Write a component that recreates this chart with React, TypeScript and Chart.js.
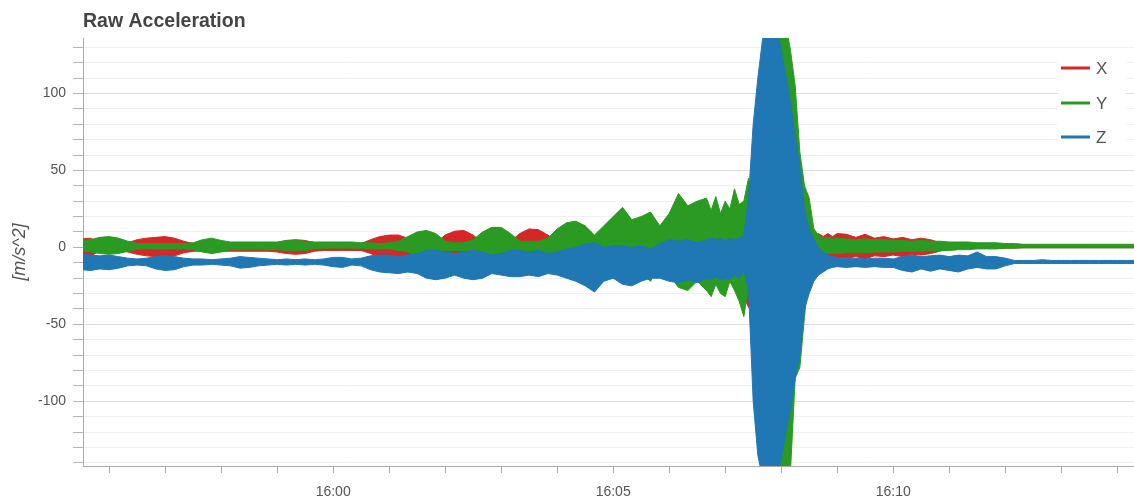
import React, { useEffect, useRef } from 'react';
import { Chart, registerables } from 'chart.js';

Chart.register(...registerables);

// seconds after 15:55:00
const times = [
  30, 40, 50, 60, 70, 80, 90, 100, 110, 120,
  130, 140, 150, 160, 170, 180, 190, 200, 210, 220,
  230, 240, 250, 260, 270, 280, 290, 300, 310, 320,
  330, 340, 350, 360, 370, 380, 390, 400, 410, 420,
  430, 440, 450, 460, 470, 480, 490, 500, 510, 520,
  530, 540, 550, 560, 570, 580, 590, 600, 610, 620,
  630, 640, 650, 660, 670, 680, 690, 700,
  705, 710, 715, 720, 725, 730, 735, 740, 745, 750,
  755, 760, 765, 770, 775, 780, 785, 790, 795, 800,
  805, 810, 815, 820, 825, 830, 835, 840,
  850, 860, 870, 880, 890, 900, 910, 920, 930, 940,
  950, 960, 970, 980, 990, 1000, 1010, 1020, 1030, 1040,
  1050, 1060, 1070, 1080, 1090, 1100, 1110, 1120, 1130, 1140,
  1150, 1160,
];

const xUpper = [
  5.5, 6, 3, 2.5, 3, 3, 5, 6, 6.5, 7,
  6, 4, 2.5, 2.5, 2.5, 2.5, 2.5, 3, 2.5, 2.5,
  2.5, 3, 4.5, 5, 4.5, 3, 2, 2, 2, 2,
  2.5, 5, 7, 8, 8, 6, 3, 2.5, 3, 8,
  10.5, 11, 8, 3, 3, 3, 4, 9, 12, 11.5,
  8, 4, 4, 4, 5, 5, 6, 7, 8, 8,
  9, 9, 10, 10, 11, 12, 12, 13,
  13, 14, 14, 15, 15, 16, 18, 20, 22, 30,
  40, 45, 50, 50, 50, 45, 40, 35, 30, 25,
  18, 12, 8, 9, 7, 9, 7, 9,
  8.5, 6.5, 8.5, 6, 7, 5.5, 6.5, 5, 6, 5,
  3, 2, 2, 1.8, 2, 1.8, 2, 1.8, 1.8, 1.5,
  1.5, 1.5, 1.5, 1.5, 1.5, 1.5, 1.5, 1.5, 1.5, 1.5,
  1.5, 1.5,
];

const xLower = [
  -5, -6, -2, -2, -2, -3, -4.5, -5.5, -6, -6.5,
  -5.5, -3.5, -2.5, -2.5, -2.5, -2.5, -2.5, -2.5, -2.5, -2.5,
  -2.5, -3, -4, -4.5, -4, -2.5, -2, -2, -2, -2,
  -2, -4, -6.5, -7, -7.5, -5, -3, -2.5, -3, -6,
  -8, -8.5, -6, -3, -3, -3, -3, -6, -7, -7,
  -5, -3, -4, -4, -5, -5, -6, -7, -8, -8,
  -9, -9, -10, -10, -11, -12, -12, -13,
  -14, -14, -15, -16, -18, -20, -25, -32, -39, -35,
  -40, -45, -50, -50, -50, -45, -40, -35, -30, -25,
  -18, -10, -5, -7, -6.5, -7.5, -6, -7.5,
  -7, -6, -7.5, -5.5, -6, -5, -6, -4.5, -5, -4,
  -2.5, -1, -0.5, -0.5, -0.5, -0.5, -0.5, -0.5, -0.5, -0.2,
  -0.2, -0.2, -0.2, -0.2, -0.2, -0.2, -0.2, -0.2, -0.2, -0.2,
  -0.2, -0.2,
];

const yUpper = [
  4.5, 5, 6.5, 7, 6, 4, 2.5, 2.5, 2.5, 2.5,
  2.5, 2.5, 3, 5, 6, 4.5, 3.5, 3.5, 3.5, 3.5,
  3.5, 3.5, 4.5, 4.5, 4, 3.5, 3.5, 3.5, 3.5, 3.5,
  3, 3, 2.5, 3, 4, 7, 10, 11, 9, 4,
  3, 3, 5, 10, 13, 13, 9, 4, 4, 4,
  6, 12, 16, 17, 14, 8, 14, 20, 26, 18,
  20, 23, 14, 22, 35, 27, 30, 32,
  24, 33, 22, 30, 25, 38, 28, 30, 45, 35,
  60, 100, 140, 150, 150, 150, 145, 128, 105, 62,
  40, 32, 12, 8, 6, 6.5, 6, 6,
  5.5, 5, 5.5, 5, 5, 4.5, 4.5, 4, 4.5, 4,
  4, 3.5, 3.5, 3.5, 3, 3, 3, 2.5, 2.5, 2,
  2, 2, 2, 2, 2, 2, 2, 2, 2, 2,
  2, 2,
];

const yLower = [
  -2, -3, -4, -4.5, -4, -2.5, -1, -1, -1, -1,
  -1, -1, -1.5, -3, -4, -3, -1.5, -1.5, -1.5, -1.5,
  -1.5, -1.5, -2, -2, -2, -1, -0.5, -0.5, -0.5, -0.5,
  -0.5, -1, -1, -1, -2, -3, -5.5, -6.5, -5, -2,
  -2, -2, -3, -6, -8.5, -8, -6, -3, -3, -3,
  -4, -7, -8.5, -8.5, -7, -5, -10, -15, -21, -14,
  -17, -22, -10, -18, -26, -28, -22, -28,
  -32, -24, -30, -32, -22, -28, -35, -45, -25, -50,
  -80, -120, -145, -150, -150, -150, -150, -145, -85, -78,
  -45, -15, -5, -4, -4, -4, -4, -4,
  -3.5, -3.5, -3.5, -3, -3, -3, -2.5, -2.5, -2.5, -2,
  -2, -2, -1.5, -1.5, -1, -1, -1, -0.5, -0.5, -0.3,
  -0.3, -0.3, -0.3, -0.3, -0.3, -0.3, -0.3, -0.3, -0.3, -0.3,
  -0.3, -0.3,
];

const zUpper = [
  -4.5, -5, -5.5, -5, -6, -7, -7.5, -7, -6, -5.5,
  -6, -7, -7.5, -7.5, -8, -7.5, -7, -6, -6.5, -7,
  -7.5, -8, -7.5, -8, -7.5, -8, -7.5, -6.5, -6.5, -7.5,
  -7, -5.5, -5, -5, -6, -5, -4, -2, -2, -3,
  -4, -3, -2, -3, -5, -4, -2, -2, -3, -2,
  -4, -3, -1, 0, 2, 3, 0, 1, 1, 0,
  1, -1, 2, 5, 4, 5, 3, 5,
  6, 5, 6, 4, 6, 5, 6, 8, 32, 80,
  110, 135, 150, 150, 145, 128, 112, 95, 72, 52,
  25, 12, 5, 0, -3, -5, -6, -6.5,
  -7, -7, -7.5, -7, -7, -7.5, -6, -5, -6, -5.5,
  -5, -6, -5, -5.5, -3, -6, -6, -7, -8.5, -8.5,
  -8.5, -8, -8.5, -8.5, -8.5, -8.5, -8.5, -8.5, -8.5, -8.5,
  -8.5, -8.5,
];

const zLower = [
  -14.5, -15, -14, -14.5, -13.5, -12, -11.5, -12, -14, -15,
  -14.5, -12.5, -11.5, -11.5, -11, -11.5, -12, -13.5, -13, -12,
  -11.5, -11, -11.5, -11, -11.5, -11, -11.5, -12.5, -13, -11.5,
  -12, -14.5, -16, -16.5, -17, -16, -17, -20, -21, -20,
  -18, -20, -21, -20, -17, -18, -19, -19, -18, -19,
  -17, -18, -20, -22, -25, -29, -22, -20, -24, -25,
  -22, -20, -20, -22, -23, -21, -23, -20,
  -21, -19, -21, -20, -21, -18, -20, -15, -28, -100,
  -135, -150, -150, -150, -150, -138, -120, -105, -85, -70,
  -40, -30, -22, -18, -16, -14, -13, -12.5,
  -13, -12.5, -13, -12.5, -13, -13, -15, -16, -14, -15.5,
  -14, -15, -16, -14, -13, -14, -14, -12, -10.5, -10.5,
  -10.5, -10.5, -10.5, -10.5, -10.5, -10.5, -10.5, -10.5, -10.5, -10.5,
  -10.5, -10.5,
];

const seriesLabels = ['X', 'Y', 'Z'];
const seriesColors = ['#d62728', '#2a9a22', '#1f77b4'];
const yTickStep = 10;
const xTickStep = 60;

function toPoints(vals: number[]) {
  return times.map((t, i) => ({ x: t, y: vals[i] }));
}

function fmtTime(v: number) {
  const m = 15 * 60 + 55 + Math.round(v / 60);
  return `${Math.floor(m / 60)}:${String(m % 60).padStart(2, '0')}`;
}

const FONT = '"Liberation Sans", Arial, Helvetica, sans-serif';

const decorPlugin = {
  id: 'decor',
  afterDraw(chart: any) {
    const ctx = chart.ctx as CanvasRenderingContext2D;
    const a = chart.chartArea;
    ctx.save();
    // title
    ctx.fillStyle = '#444';
    ctx.font = `bold 19.5px ${FONT}`;
    ctx.textAlign = 'left';
    ctx.textBaseline = 'alphabetic';
    ctx.fillText('Raw Acceleration', a.left, 27);
    // y axis title
    ctx.save();
    ctx.translate(20, (a.top + a.bottom) / 2);
    ctx.rotate(-Math.PI / 2);
    ctx.font = `italic 18px ${FONT}`;
    ctx.fillStyle = '#555';
    ctx.textAlign = 'center';
    ctx.textBaseline = 'middle';
    ctx.fillText('[m/s^2]', 0, 0);
    ctx.restore();
    // legend
    ctx.fillStyle = '#ffffff';
    ctx.fillRect(1058, 48, 68, 106);
    const ys = [68, 103, 137];
    seriesLabels.forEach((lab, i) => {
      ctx.strokeStyle = seriesColors[i];
      ctx.lineWidth = 3;
      ctx.beginPath();
      ctx.moveTo(1061, ys[i]);
      ctx.lineTo(1090, ys[i]);
      ctx.stroke();
      ctx.fillStyle = '#555';
      ctx.font = `17px ${FONT}`;
      ctx.textAlign = 'left';
      ctx.textBaseline = 'middle';
      ctx.fillText(lab, 1096, ys[i] + 1);
    });
    ctx.restore();
  },
};

export default function App() {
  const ref = useRef<HTMLCanvasElement | null>(null);

  useEffect(() => {
    if (!ref.current) return;
    const pairs = [
      [xUpper, xLower],
      [yUpper, yLower],
      [zUpper, zLower],
    ];
    const datasets: any[] = [];
    pairs.forEach(([up, lo], i) => {
      const order = 3 - i;
      datasets.push({
        label: seriesLabels[i],
        data: toPoints(up),
        borderColor: seriesColors[i],
        backgroundColor: seriesColors[i],
        borderWidth: 1,
        pointRadius: 0,
        tension: 0,
        fill: '+1',
        order,
      });
      datasets.push({
        label: seriesLabels[i] + ' (low)',
        data: toPoints(lo),
        borderColor: seriesColors[i],
        backgroundColor: seriesColors[i],
        borderWidth: 1,
        pointRadius: 0,
        tension: 0,
        fill: false,
        order,
      });
    });

    const chart = new Chart(ref.current, {
      type: 'line',
      data: { datasets },
      options: {
        animation: false,
        responsive: false,
        maintainAspectRatio: false,
        layout: { padding: { top: 38, left: 0, right: 0, bottom: 0 } },
        plugins: {
          legend: { display: false },
          title: { display: false },
          tooltip: { enabled: false },
        },
        scales: {
          x: {
            type: 'linear',
            min: 32,
            max: 1158,
            afterFit: (s: any) => { s.height = 33; },
            ticks: {
              stepSize: xTickStep,
              includeBounds: false,
              autoSkip: false,
              maxRotation: 0,
              minRotation: 0,
              padding: 11,
              color: '#555',
              font: { family: FONT, size: 14 },
              callback: (v: any) => (Number(v) % 300 === 0 ? fmtTime(Number(v)) : ''),
            },
            grid: { drawOnChartArea: false, drawTicks: true, tickLength: 7, tickColor: '#aaa' },
            border: { color: '#aaa', width: 1 },
          },
          y: {
            type: 'linear',
            min: -142,
            max: 136,
            afterFit: (s: any) => { s.width = 83; },
            ticks: {
              stepSize: yTickStep,
              includeBounds: false,
              autoSkip: false,
              padding: 7,
              color: '#555',
              font: { family: FONT, size: 14 },
              callback: (v: any) => (Number(v) % 50 === 0 ? String(v) : ''),
            },
            grid: {
              color: (c: any) => (c.tick && c.tick.value % 50 === 0 ? '#dcdce8' : '#f0f0f0'),
              tickColor: '#b5b5b5',
              tickLength: 10,
              drawTicks: true,
            },
            border: { color: '#aaa', width: 1 },
          },
        },
      },
      plugins: [decorPlugin],
    } as any);

    return () => chart.destroy();
  }, []);

  return (
    <div style={{ position: 'absolute', left: 0, top: 0, width: 1134, height: 499, background: '#fff' }}>
      <canvas ref={ref} width={1134} height={499} />
    </div>
  );
}
